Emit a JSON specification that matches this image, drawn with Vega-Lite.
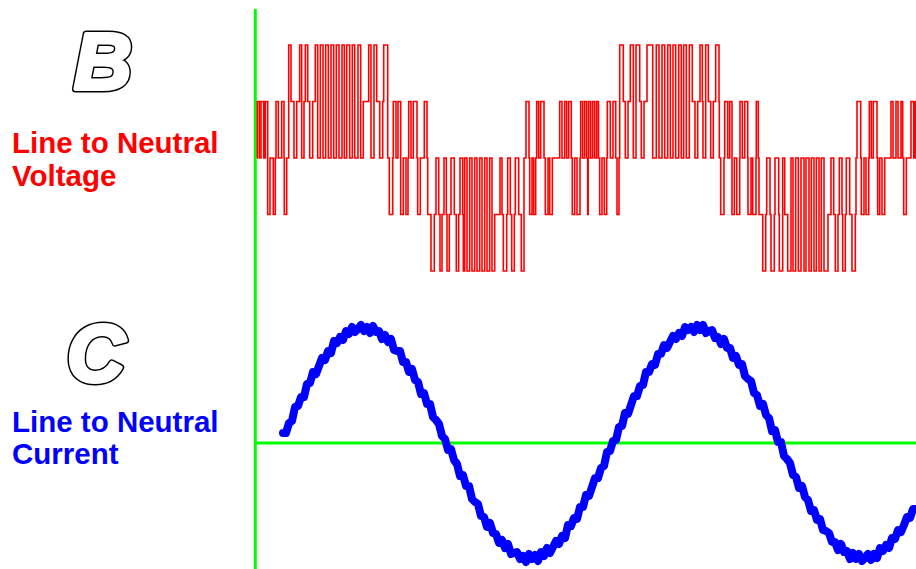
{
  "$schema": "https://vega.github.io/schema/vega-lite/v6.json",
  "width": 916,
  "height": 569,
  "padding": 0,
  "autosize": {"type": "none"},
  "background": "#ffffff",
  "config": {"view": {"stroke": null}},
  "datasets": {
    "voltage": [
      {"t":1.0,"v":0},{"t":1.3,"v":1},{"t":3.3,"v":0},{"t":5,"v":1},{"t":7.7,"v":0},{"t":9.3,"v":1},{"t":11.7,"v":-1},{"t":14,"v":0},{"t":17.3,"v":-1},{"t":19.3,"v":0},{"t":20,"v":1},{"t":22.3,"v":0},{"t":25.7,"v":1},{"t":28,"v":0},{"t":28.3,"v":-1},{"t":30.7,"v":0},{"t":32.7,"v":2},{"t":35,"v":1},{"t":38,"v":0},{"t":40.7,"v":1},{"t":43.7,"v":2},{"t":45.7,"v":0},{"t":48,"v":1},{"t":49.3,"v":2},{"t":51.7,"v":1},{"t":53.7,"v":0},{"t":56.7,"v":1},{"t":59.3,"v":2},{"t":61.7,"v":0},{"t":64.3,"v":2},{"t":67,"v":0},{"t":69.7,"v":2},{"t":72.3,"v":0},{"t":75,"v":2},{"t":77.7,"v":0},{"t":80.3,"v":2},{"t":83,"v":0},{"t":86,"v":2},{"t":88.3,"v":0},{"t":90.7,"v":2},{"t":93.7,"v":0},{"t":96.3,"v":2},{"t":98.7,"v":0},{"t":102,"v":2},{"t":104.7,"v":0},{"t":107.3,"v":1},{"t":112.7,"v":2},{"t":115,"v":0},{"t":118,"v":2},{"t":120.7,"v":1},{"t":123.7,"v":0},{"t":126.7,"v":1},{"t":127.7,"v":2},
      {"t":131.7,"v":0},{"t":133.3,"v":-1},{"t":136.7,"v":0},{"t":137.3,"v":1},{"t":140,"v":0},{"t":142,"v":1},{"t":144.7,"v":-1},{"t":147.3,"v":0},{"t":150,"v":-1},{"t":152,"v":0},{"t":152.7,"v":1},{"t":155,"v":0},{"t":157.3,"v":1},{"t":161,"v":0},{"t":161.7,"v":-1},{"t":164.3,"v":0},{"t":168.3,"v":1},{"t":171,"v":0},{"t":171.7,"v":-1},{"t":175,"v":-2},{"t":178.3,"v":-1},{"t":180,"v":0},{"t":182.7,"v":-1},{"t":184,"v":-2},{"t":186,"v":-1},{"t":188,"v":0},{"t":190.3,"v":-1},{"t":191,"v":-2},{"t":193.3,"v":-1},{"t":195,"v":0},{"t":198.3,"v":-1},{"t":200.3,"v":-2},{"t":202.7,"v":-1},{"t":204,"v":0},{"t":206.7,"v":-1},{"t":207.3,"v":-2},{"t":208.7,"v":0},{"t":211,"v":-2},{"t":213.7,"v":0},{"t":216,"v":-2},{"t":218.7,"v":0},{"t":221,"v":-2},{"t":223.7,"v":0},{"t":226,"v":-2},{"t":228.7,"v":0},{"t":231,"v":-2},{"t":233.7,"v":0},{"t":236,"v":-2},{"t":238.7,"v":-1},{"t":244,"v":0},{"t":246,"v":-1},{"t":247.3,"v":-2},{"t":250.7,"v":-1},{"t":251.7,"v":0},{"t":254.3,"v":-1},{"t":255.7,"v":-2},{"t":258.3,"v":-1},{"t":259.3,"v":0},
      {"t":262.7,"v":-1},{"t":265.3,"v":-2},{"t":268,"v":0},{"t":270,"v":1},{"t":273,"v":0},{"t":273.7,"v":-1},{"t":276,"v":0},{"t":277.7,"v":-1},{"t":279.7,"v":0},{"t":280.7,"v":1},{"t":282.7,"v":0},{"t":284.7,"v":1},{"t":288,"v":0},{"t":289.3,"v":-1},{"t":292,"v":0},{"t":293.7,"v":-1},{"t":296.3,"v":0},{"t":303.7,"v":1},{"t":306,"v":0},{"t":308.7,"v":1},{"t":310.7,"v":0},{"t":312.7,"v":1},{"t":315.3,"v":0},{"t":316.3,"v":-1},{"t":318.7,"v":0},{"t":321,"v":-1},{"t":324,"v":0},{"t":324.7,"v":1},{"t":326.7,"v":0},{"t":328.7,"v":1},{"t":330.7,"v":0},{"t":331.7,"v":-1},{"t":332.2,"v":0},{"t":332.7,"v":1},{"t":334.7,"v":0},{"t":336.7,"v":1},{"t":338.7,"v":0},{"t":340.7,"v":1},{"t":342.5,"v":0},{"t":343.7,"v":-1},{"t":346,"v":0},{"t":348.3,"v":-1},{"t":350.7,"v":0},{"t":351.3,"v":1},{"t":354.3,"v":0},{"t":357,"v":1},{"t":359.7,"v":0},{"t":361,"v":-1},{"t":363,"v":0},{"t":363.7,"v":2},{"t":367.3,"v":1},{"t":369.3,"v":0},{"t":372,"v":1},{"t":374.3,"v":2},{"t":377.3,"v":0},{"t":380,"v":2},{"t":383.7,"v":1},{"t":385.3,"v":0},{"t":388,"v":1},{"t":391,"v":2},
      {"t":396.7,"v":0},{"t":400.3,"v":2},{"t":403,"v":0},{"t":406,"v":2},{"t":408.7,"v":0},{"t":411.7,"v":2},{"t":414.3,"v":0},{"t":417,"v":2},{"t":419.7,"v":0},{"t":422.7,"v":2},{"t":425.3,"v":0},{"t":427.7,"v":2},{"t":430.3,"v":0},{"t":433.3,"v":2},{"t":436.3,"v":1},{"t":439,"v":0},{"t":441.7,"v":1},{"t":444,"v":2},{"t":446.3,"v":1},{"t":447,"v":0},{"t":449.7,"v":2},{"t":452.3,"v":1},{"t":454.7,"v":0},{"t":457.3,"v":1},{"t":459.7,"v":2},{"t":463,"v":1},{"t":463.3,"v":0},{"t":464.7,"v":-1},{"t":468,"v":0},{"t":468.7,"v":1},{"t":471.7,"v":0},{"t":473.7,"v":1},{"t":476,"v":-1},{"t":478.3,"v":0},{"t":480.7,"v":-1},{"t":483.7,"v":0},{"t":484,"v":1},{"t":486.3,"v":0},{"t":488.7,"v":1},{"t":491.7,"v":0},{"t":492,"v":-1},{"t":495,"v":0},{"t":496.7,"v":-1},{"t":500,"v":0},{"t":500.3,"v":1},{"t":502.3,"v":0},{"t":503,"v":-1},{"t":506.7,"v":-2},{"t":509.7,"v":-1},{"t":510.7,"v":0},{"t":514,"v":-1},{"t":515,"v":-2},{"t":518.3,"v":-1},{"t":519,"v":0},{"t":522.7,"v":-1},{"t":523.3,"v":-2},{"t":526.7,"v":0},
      {"t":528.7,"v":-1},{"t":531.7,"v":-2},{"t":535,"v":0},{"t":537,"v":-2},{"t":539.7,"v":0},{"t":542.3,"v":-2},{"t":545,"v":0},{"t":548,"v":-2},{"t":550,"v":0},{"t":553,"v":-2},{"t":555.3,"v":0},{"t":558,"v":-2},{"t":560.3,"v":0},{"t":563,"v":-2},{"t":565.3,"v":0},{"t":568,"v":-2},{"t":572,"v":-1},{"t":575,"v":0},{"t":577.7,"v":-1},{"t":579.3,"v":-2},{"t":582,"v":-1},{"t":583.3,"v":0},{"t":586,"v":-1},{"t":586.7,"v":-2},{"t":589.3,"v":-1},{"t":590.3,"v":0},{"t":593.7,"v":-1},{"t":596,"v":-2},{"t":599.3,"v":-1},{"t":600,"v":0},{"t":601,"v":1},{"t":604.7,"v":0},{"t":605.3,"v":-1},{"t":608,"v":0},{"t":610,"v":-1},{"t":612.7,"v":0},{"t":613.3,"v":1},{"t":615.3,"v":0},{"t":617.3,"v":1},{"t":621,"v":0},{"t":621.7,"v":-1},{"t":623.7,"v":0},{"t":626,"v":-1},{"t":628.7,"v":0},{"t":635,"v":1},{"t":637,"v":0},{"t":640,"v":1},{"t":642,"v":0},{"t":645,"v":1},{"t":646.7,"v":0},{"t":647.7,"v":-1},{"t":650.3,"v":0},{"t":655,"v":1},{"t":657.7,"v":0},{"t":659.3,"v":1},{"t":660,"v":1}
    ],
    "current": [
      {"t":27,"i":10},{"t":30,"i":10},{"t":33,"i":20},{"t":36,"i":22},{"t":39,"i":36},{"t":42,"i":37},{"t":45,"i":46},{"t":48,"i":46},{"t":51,"i":59},{"t":54,"i":60},{"t":57,"i":71},{"t":60,"i":69},{"t":63,"i":77},{"t":66,"i":85},{"t":69,"i":83},{"t":72,"i":92},{"t":75,"i":90},{"t":78,"i":102},{"t":81,"i":100},{"t":84,"i":106},{"t":87,"i":103},{"t":90,"i":112},{"t":93,"i":109},{"t":96,"i":116},{"t":99,"i":111},{"t":102,"i":114},{"t":105,"i":118},{"t":108,"i":112},{"t":111,"i":116},{"t":114,"i":110},{"t":117,"i":117},{"t":120,"i":111},{"t":123,"i":112},{"t":126,"i":104},{"t":129,"i":108},{"t":132,"i":101},{"t":135,"i":104},{"t":138,"i":93},{"t":141,"i":92},{"t":144,"i":92},{"t":147,"i":81},{"t":150,"i":81},{"t":153,"i":71},{"t":156,"i":74},{"t":159,"i":63},{"t":162,"i":61},{"t":165,"i":49},{"t":168,"i":50},{"t":171,"i":39},{"t":174,"i":39},{"t":177,"i":26},{"t":180,"i":23},{"t":183,"i":19},{"t":186,"i":7},{"t":189,"i":4},
      {"t":192,"i":-7},{"t":195,"i":-6},{"t":198,"i":-17},{"t":201,"i":-21},{"t":204,"i":-33},{"t":207,"i":-32},{"t":210,"i":-43},{"t":213,"i":-43},{"t":216,"i":-56},{"t":219,"i":-59},{"t":222,"i":-61},{"t":225,"i":-73},{"t":228,"i":-74},{"t":231,"i":-84},{"t":234,"i":-80},{"t":237,"i":-90},{"t":240,"i":-91},{"t":243,"i":-100},{"t":246,"i":-97},{"t":249,"i":-105},{"t":252,"i":-101},{"t":255,"i":-111},{"t":258,"i":-110},{"t":261,"i":-109},{"t":264,"i":-116},{"t":267,"i":-113},{"t":270,"i":-119},{"t":273,"i":-111},{"t":276,"i":-116},{"t":279,"i":-112},{"t":282,"i":-118},{"t":285,"i":-109},{"t":288,"i":-113},{"t":291,"i":-105},{"t":294,"i":-110},{"t":297,"i":-104},{"t":300,"i":-98},{"t":303,"i":-101},{"t":306,"i":-93},{"t":309,"i":-95},{"t":312,"i":-82},{"t":315,"i":-83},{"t":318,"i":-75},{"t":321,"i":-76},{"t":324,"i":-64},{"t":327,"i":-64},{"t":330,"i":-52},{"t":333,"i":-53},{"t":336,"i":-44},{"t":339,"i":-35},{"t":342,"i":-35},{"t":345,"i":-25},{"t":348,"i":-23},{"t":351,"i":-9},{"t":354,"i":-8},
      {"t":357,"i":2},{"t":360,"i":3},{"t":363,"i":16},{"t":366,"i":17},{"t":369,"i":30},{"t":372,"i":29},{"t":375,"i":38},{"t":378,"i":47},{"t":381,"i":47},{"t":384,"i":57},{"t":387,"i":58},{"t":390,"i":71},{"t":393,"i":71},{"t":396,"i":79},{"t":399,"i":78},{"t":402,"i":89},{"t":405,"i":89},{"t":408,"i":98},{"t":411,"i":95},{"t":414,"i":101},{"t":417,"i":107},{"t":420,"i":104},{"t":423,"i":110},{"t":426,"i":107},{"t":429,"i":116},{"t":432,"i":113},{"t":435,"i":116},{"t":438,"i":111},{"t":441,"i":118},{"t":444,"i":113},{"t":447,"i":118},{"t":450,"i":110},{"t":453,"i":112},{"t":456,"i":113},{"t":459,"i":105},{"t":462,"i":106},{"t":465,"i":99},{"t":468,"i":104},{"t":471,"i":95},{"t":474,"i":95},{"t":477,"i":85},{"t":480,"i":87},{"t":483,"i":78},{"t":486,"i":79},{"t":489,"i":67},{"t":492,"i":64},{"t":495,"i":62},{"t":498,"i":50},{"t":501,"i":48},{"t":504,"i":37},{"t":507,"i":39},{"t":510,"i":28},{"t":513,"i":25},{"t":516,"i":12},{"t":519,"i":13},{"t":522,"i":1},
      {"t":525,"i":1},{"t":528,"i":-13},{"t":531,"i":-16},{"t":534,"i":-20},{"t":537,"i":-32},{"t":540,"i":-34},{"t":543,"i":-45},{"t":546,"i":-43},{"t":549,"i":-54},{"t":552,"i":-57},{"t":555,"i":-68},{"t":558,"i":-67},{"t":561,"i":-77},{"t":564,"i":-76},{"t":567,"i":-87},{"t":570,"i":-88},{"t":573,"i":-90},{"t":576,"i":-99},{"t":579,"i":-99},{"t":582,"i":-107},{"t":585,"i":-101},{"t":588,"i":-109},{"t":591,"i":-108},{"t":594,"i":-116},{"t":597,"i":-110},{"t":600,"i":-116},{"t":603,"i":-111},{"t":606,"i":-118},{"t":609,"i":-115},{"t":612,"i":-111},{"t":615,"i":-117},{"t":618,"i":-111},{"t":621,"i":-115},{"t":624,"i":-105},{"t":627,"i":-108},{"t":630,"i":-102},{"t":633,"i":-105},{"t":636,"i":-95},{"t":639,"i":-96},{"t":642,"i":-87},{"t":645,"i":-89},{"t":648,"i":-82},{"t":651,"i":-74},{"t":654,"i":-75},{"t":657,"i":-66},{"t":660,"i":-66}
    ],
    "letters": [
      {"t":-153,"y":354,"txt":"B"},
      {"t":-160,"y":62,"txt":"C"}
    ],
    "redLabels": [
      {"t":-244,"y":290.3,"txt":"Line to Neutral"},
      {"t":-244,"y":257.5,"txt":"Voltage"}
    ],
    "blueLabels": [
      {"t":-244,"y":11,"txt":"Line to Neutral"},
      {"t":-244,"y":-20.5,"txt":"Current"}
    ]
  },
  "resolve": {"scale": {"y": "independent"}},
  "layer": [
    {
      "data": {"values": [{}]},
      "mark": {"type": "rule", "color": "#00ff00", "strokeWidth": 3},
      "encoding": {
        "x": {"datum": -0.7, "type": "quantitative", "scale": {"domain": [-256, 660], "nice": false, "zero": false}, "axis": null},
        "y": {"datum": 434, "type": "quantitative", "scale": {"domain": [-126, 443], "nice": false, "zero": false}, "axis": null},
        "y2": {"datum": -126}
      }
    },
    {
      "data": {"values": [{}]},
      "mark": {"type": "rule", "color": "#00ff00", "strokeWidth": 3},
      "encoding": {
        "x": {"datum": -0.7, "type": "quantitative", "scale": {"domain": [-256, 660], "nice": false, "zero": false}, "axis": null},
        "x2": {"datum": 660},
        "y": {"datum": 0, "type": "quantitative", "scale": {"domain": [-126, 443], "nice": false, "zero": false}, "axis": null}
      }
    },
    {
      "data": {"name": "voltage"},
      "mark": {"type": "line", "color": "#ff0000", "strokeWidth": 1.6, "interpolate": "step-after"},
      "encoding": {
        "x": {"field": "t", "type": "quantitative", "scale": {"domain": [-256, 660], "nice": false, "zero": false}, "axis": null},
        "y": {"field": "v", "type": "quantitative", "scale": {"domain": [-7.274, 2.796], "nice": false, "zero": false}, "axis": null}
      }
    },
    {
      "data": {"name": "current"},
      "mark": {"type": "line", "color": "#0000ff", "strokeWidth": 8, "strokeJoin": "round", "strokeCap": "round"},
      "encoding": {
        "x": {"field": "t", "type": "quantitative", "scale": {"domain": [-256, 660], "nice": false, "zero": false}, "axis": null},
        "y": {"field": "i", "type": "quantitative", "scale": {"domain": [-126, 443], "nice": false, "zero": false}, "axis": null}
      }
    },
    {
      "data": {"name": "letters"},
      "mark": {"type": "text", "font": "Liberation Sans", "fontSize": 80, "fontWeight": "bold", "fontStyle": "italic", "fill": "#000000", "stroke": "#000000", "strokeWidth": 7, "strokeJoin": "round", "align": "center", "baseline": "alphabetic"},
      "encoding": {
        "x": {"field": "t", "type": "quantitative", "scale": {"domain": [-256, 660], "nice": false, "zero": false}, "axis": null},
        "y": {"field": "y", "type": "quantitative", "scale": {"domain": [-126, 443], "nice": false, "zero": false}, "axis": null},
        "text": {"field": "txt"}
      }
    },
    {
      "data": {"name": "letters"},
      "mark": {"type": "text", "font": "Liberation Sans", "fontSize": 80, "fontWeight": "bold", "fontStyle": "italic", "fill": "#ffffff", "stroke": "#ffffff", "strokeWidth": 4, "strokeJoin": "round", "align": "center", "baseline": "alphabetic"},
      "encoding": {
        "x": {"field": "t", "type": "quantitative", "scale": {"domain": [-256, 660], "nice": false, "zero": false}, "axis": null},
        "y": {"field": "y", "type": "quantitative", "scale": {"domain": [-126, 443], "nice": false, "zero": false}, "axis": null},
        "text": {"field": "txt"}
      }
    },
    {
      "data": {"name": "redLabels"},
      "mark": {"type": "text", "font": "Liberation Sans", "fontSize": 29.5, "fontWeight": "bold", "color": "#ff0000", "align": "left", "baseline": "alphabetic"},
      "encoding": {
        "x": {"field": "t", "type": "quantitative", "scale": {"domain": [-256, 660], "nice": false, "zero": false}, "axis": null},
        "y": {"field": "y", "type": "quantitative", "scale": {"domain": [-126, 443], "nice": false, "zero": false}, "axis": null},
        "text": {"field": "txt"}
      }
    },
    {
      "data": {"name": "blueLabels"},
      "mark": {"type": "text", "font": "Liberation Sans", "fontSize": 29.5, "fontWeight": "bold", "color": "#0000ff", "align": "left", "baseline": "alphabetic"},
      "encoding": {
        "x": {"field": "t", "type": "quantitative", "scale": {"domain": [-256, 660], "nice": false, "zero": false}, "axis": null},
        "y": {"field": "y", "type": "quantitative", "scale": {"domain": [-126, 443], "nice": false, "zero": false}, "axis": null},
        "text": {"field": "txt"}
      }
    }
  ]
}
